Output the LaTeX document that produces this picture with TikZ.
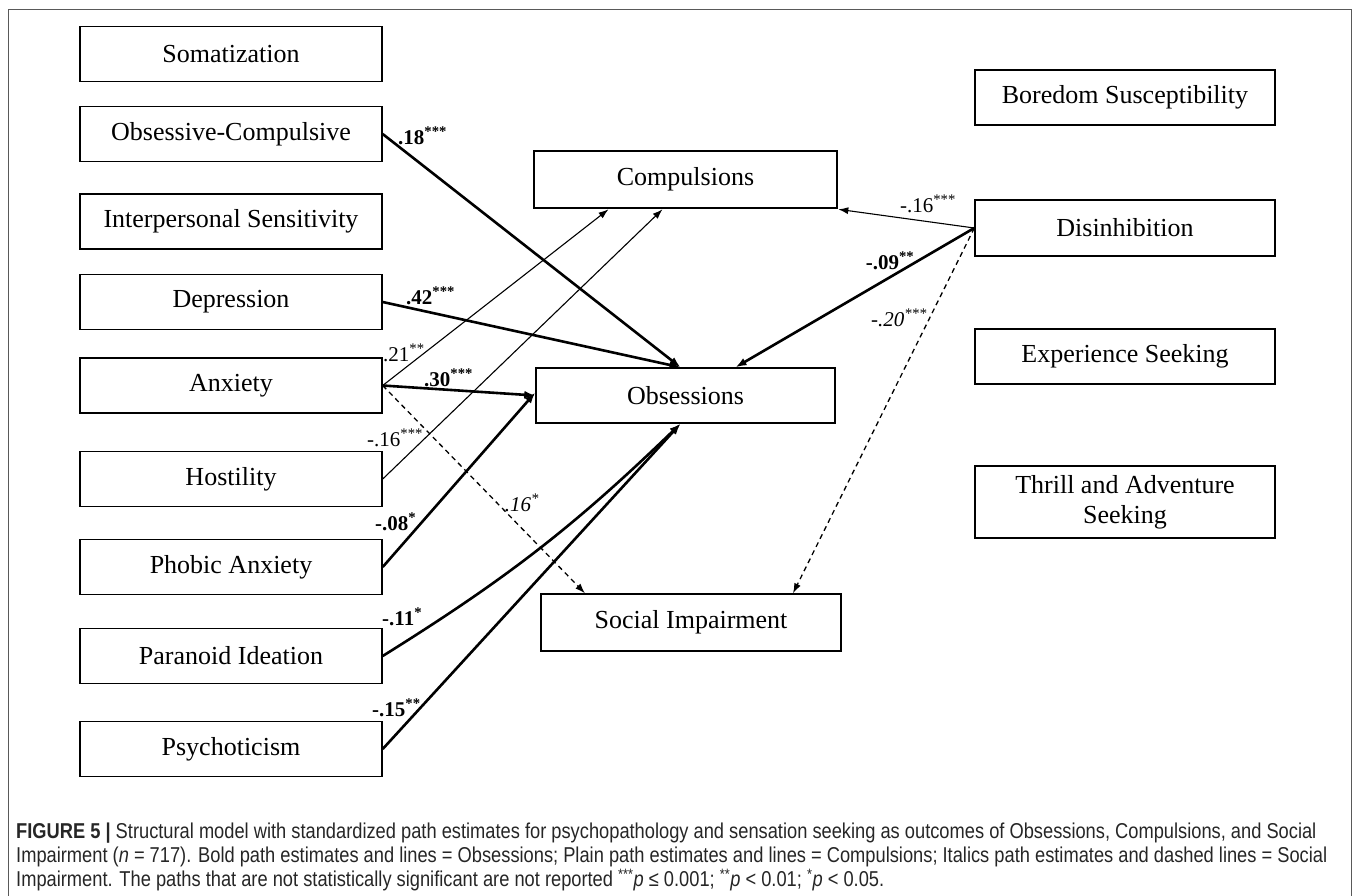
\documentclass[tikz,border=0pt]{standalone}
\usepackage{fontspec}
\setmainfont{Liberation Serif}
\newfontfamily\capfont[FakeStretch=0.85]{Liberation Sans}
\usetikzlibrary{arrows.meta,calc}
\newcommand{\sg}[1]{\textsuperscript{#1}}
\begin{document}
\begin{tikzpicture}[x=1pt,y=-1pt,
  box/.style={draw, line width=1.4pt, minimum width=302pt, minimum height=55pt, inner sep=0pt,
    font=\fontsize{26}{30}\selectfont, align=center},
  thickbox/.style={box, line width=2.6pt},
  boldpath/.style={line width=2.6pt, -{Latex[length=11pt,width=8pt]}},
  plainpath/.style={line width=1.1pt, -{Latex[length=10pt,width=7pt]}},
  dashpath/.style={line width=1.3pt, dash pattern=on 5pt off 4pt, -{Latex[length=10pt,width=7pt]}},
  lab/.style={font=\fontsize{21}{24}\selectfont, inner sep=0pt},
  frame/.style={draw=black!65, line width=1pt}
]
\useasboundingbox (0,0) rectangle (1357,895);
\draw[frame] (8,896) -- (8,9) -- (1351,9) -- (1351,896);

% left column
\node[box] (som) at (231,54) {Somatization};
\node[box] (oc)  at (231,134) {Obsessive-Compulsive};
\node[box] (ips) at (231,221.5) {Interpersonal Sensitivity};
\node[box] (dep) at (231,302) {Depression};
\node[box] (anx) at (231,385.5) {Anxiety};
\node[box] (hos) at (231,479) {Hostility};
\node[box] (pho) at (231,567) {Phobic Anxiety};
\node[box] (par) at (231,656) {Paranoid Ideation};
\node[box] (psy) at (231,749) {Psychoticism};

% middle
\node[thickbox, minimum width=303pt, minimum height=57pt] (comp) at (685.5,179.5) {Compulsions};
\node[box, minimum width=299pt] (obs) at (685.5,395.5) {Obsessions};
\node[box, minimum width=300pt, minimum height=57pt] (soc) at (691,622.5) {Social Impairment};

% right column
\node[box, minimum width=300pt] (bor) at (1125,97.5) {Boredom Susceptibility};
\node[box, minimum width=300pt, minimum height=56pt] (dis) at (1125,228) {Disinhibition};
\node[box, minimum width=300pt] (exp) at (1125,356.5) {Experience Seeking};
\node[box, minimum width=300pt, minimum height=72pt] (tas) at (1125,502) {Thrill and Adventure\\Seeking};

% plain paths (Compulsions)
\draw[plainpath] (anx.east) -- ([xshift=-77pt]comp.south);
\draw[plainpath] (hos.east) -- ([xshift=-23pt]comp.south);
\draw[plainpath] (dis.west) -- (comp.south east);

% bold paths (Obsessions)
\draw[boldpath] (oc.east) -- ([xshift=-5pt]obs.north);
\draw[boldpath] (dep.east) -- ([xshift=-5pt]obs.north);
\draw[boldpath] (anx.east) -- (obs.west);
\draw[boldpath] (pho.east) -- ([yshift=3pt]obs.west);
\draw[boldpath] (par.east) to[bend right=6] ([xshift=-5pt]obs.south);
\draw[boldpath] (psy.east) -- ([xshift=-5pt]obs.south);
\draw[boldpath] (dis.west) -- ([xshift=50pt]obs.north);

% dashed paths (Social Impairment)
\draw[dashpath] (anx.east) -- ([xshift=-106pt]soc.north);
\draw[dashpath] (dis.west) -- ([xshift=102pt]soc.north);

% labels
\node[lab, anchor=west] (l18) at (398,136) {\textbf{.18\sg{***}}};
\node[lab, anchor=west] (l42) at (406,296) {\textbf{.42\sg{***}}};
\node[lab, anchor=west] (l21) at (383,353) {.21\sg{**}};
\node[lab, anchor=west] (l30) at (424,378) {\textbf{.30\sg{***}}};
\node[lab, anchor=west] (l16h) at (367,438) {-.16\sg{***}};
\node[lab] (l16s) at (522,503) {\textit{.16\sg{*}}};
\node[lab, anchor=west] (l08) at (375,522) {\textbf{-.08\sg{*}}};
\node[lab, anchor=west] (l11) at (382,617) {\textbf{-.11\sg{*}}};
\node[lab, anchor=west] (l15) at (372,708) {\textbf{-.15\sg{**}}};
\node[lab] (l16d) at (928,204) {-.16\sg{***}};
\node[lab] (l09) at (890,261) {\textbf{-.09\sg{**}}};
\node[lab] (l20) at (899,318) {\textit{-.20\sg{***}}};

% caption
\node[anchor=north west, align=left, inner sep=0pt, text=black!85,
  font=\capfont\fontsize{21.5}{24}\selectfont] (cap) at (16,823)
{\textbf{FIGURE 5 |} Structural model with standardized path estimates for psychopathology and sensation seeking as outcomes of Obsessions, Compulsions, and Social\\
Impairment (\textit{n} = 717). Bold path estimates and lines = Obsessions; Plain path estimates and lines = Compulsions; Italics path estimates and dashed lines = Social\\
Impairment. The paths that are not statistically significant are not reported \textsuperscript{***}\textit{p} ≤ 0.001; \textsuperscript{**}\textit{p} < 0.01; \textsuperscript{*}\textit{p} < 0.05.};
\end{tikzpicture}
\end{document}
